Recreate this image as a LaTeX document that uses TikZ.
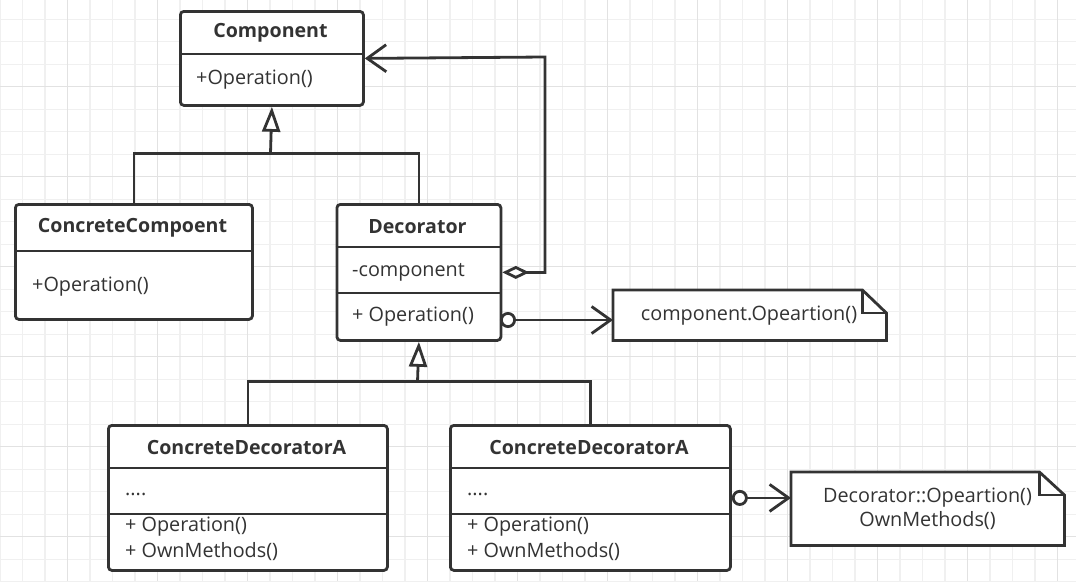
\documentclass[tikz,border=0pt]{standalone}
\usepackage{fontspec}
\setmainfont{Open Sans}
\usetikzlibrary{arrows.meta}
\definecolor{linec}{HTML}{333333}
\definecolor{gridminor}{HTML}{F0F0F0}
\definecolor{gridmajor}{HTML}{E2E2E2}
\tikzset{
  umlbox/.style={draw=linec, line width=2.8pt, rounded corners=3.5pt, fill=white,
    inner sep=0pt, anchor=north west},
  divider/.style={draw=linec, line width=2.4pt},
  conn/.style={draw=linec, line width=2.8pt},
  titletext/.style={font=\fontsize{19.6}{22}\selectfont\bfseries, text=linec, inner sep=0pt},
  membertext/.style={font=\fontsize{19.8}{22}\selectfont, text=linec, inner sep=0pt, anchor=west},
  notebox/.style={inner sep=0pt, anchor=north west},
  notetext/.style={font=\fontsize{19.8}{24}\selectfont, text=linec, inner sep=0pt, align=center},
  notepath/.style={draw=linec, line width=2.8pt, fill=white},
  genarrow/.style={-{Triangle[open, length=25pt, width=18pt, fill=white]}},
  barb/.tip={Straight Barb[length=19pt, width=27pt]},
  ball/.tip={Circle[open, length=16pt, width=16pt, fill=white]},
  rhomb/.tip={Diamond[open, length=27pt, width=13pt, fill=white]},
}
\begin{document}
\begin{tikzpicture}[x=1pt,y=-1pt]
\useasboundingbox (0,0) rectangle (1076,581);
\fill[white] (0,0) rectangle (1076,581);
% grid
\begin{scope}
\clip (0,0) rectangle (1076,581);
\foreach \k in {0,...,48} \draw[gridminor, line width=1.1pt] (22.5*\k,0) -- (22.5*\k,581);
\foreach \k in {0,...,26} \draw[gridminor, line width=1.1pt] (0,-3.2+22.5*\k) -- (1076,-3.2+22.5*\k);
\foreach \k in {0,...,11} \draw[gridmajor, line width=1.2pt] (67.5+90*\k,0) -- (67.5+90*\k,581);
\foreach \k in {1,...,6} \draw[gridmajor, line width=1.2pt] (0,-3.2+90*\k) -- (1076,-3.2+90*\k);
\end{scope}

% Component
\node[umlbox, minimum width=183pt, minimum height=94pt] (comp) at (179,10) {};
\draw[divider] ([yshift=-44pt]comp.north west) -- ([yshift=-44pt]comp.north east);
\node[titletext] (compT) at (270.5,33) {Component};
\node[membertext] (compO) at (196,80) {+Operation()};

% ConcreteCompoent
\node[umlbox, minimum width=237pt, minimum height=115pt] (cc) at (14,203) {};
\draw[divider] ([yshift=-48pt]cc.north west) -- ([yshift=-48pt]cc.north east);
\node[titletext] (ccT) at (132.5,228) {ConcreteCompoent};
\node[membertext] (ccO) at (32,287) {+Operation()};

% Decorator
\node[umlbox, minimum width=164pt, minimum height=136pt] (dec) at (335.5,203) {};
\draw[divider] ([yshift=-44pt]dec.north west) -- ([yshift=-44pt]dec.north east);
\draw[divider] ([yshift=-90pt]dec.north west) -- ([yshift=-90pt]dec.north east);
\node[titletext] (decT) at (417.5,227) {Decorator};
\node[membertext] (decA) at (352,272) {-component};
\node[membertext] (decO) at (352,317) {+ Operation()};

% ConcreteDecoratorA (1)
\node[umlbox, minimum width=279pt, minimum height=145pt] (cda) at (107,424) {};
\draw[divider] ([yshift=-44pt]cda.north west) -- ([yshift=-44pt]cda.north east);
\draw[divider] ([yshift=-90pt]cda.north west) -- ([yshift=-90pt]cda.north east);
\node[titletext] (cdaT) at (246.5,447) {ConcreteDecoratorA};
\node[membertext] (cdaD) at (125,494) {....};
\node[membertext] (cdaO) at (125,527) {+ Operation()};
\node[membertext] (cdaM) at (125,552) {+ OwnMethods()};

% ConcreteDecoratorA (2)
\node[umlbox, minimum width=280pt, minimum height=145pt] (cdb) at (449,424) {};
\draw[divider] ([yshift=-44pt]cdb.north west) -- ([yshift=-44pt]cdb.north east);
\draw[divider] ([yshift=-90pt]cdb.north west) -- ([yshift=-90pt]cdb.north east);
\node[titletext] (cdbT) at (589,447) {ConcreteDecoratorA};
\node[membertext] (cdbD) at (467,494) {....};
\node[membertext] (cdbO) at (467,527) {+ Operation()};
\node[membertext] (cdbM) at (467,552) {+ OwnMethods()};

% Note 1
\node[notebox, minimum width=273pt, minimum height=50pt] (noteA) at (613,290) {};
\draw[notepath] (noteA.north west) -- ([xshift=-24pt]noteA.north east) -- ([yshift=-23pt]noteA.north east)
  -- (noteA.south east) -- (noteA.south west) -- cycle;
\draw[conn] ([xshift=-24pt]noteA.north east) |- ([yshift=-23pt]noteA.north east);
\node[notetext] (noteAT) at (749,316) {component.Opeartion()};

% Note 2
\node[notebox, minimum width=273pt, minimum height=73pt] (noteB) at (791,472) {};
\draw[notepath] (noteB.north west) -- ([xshift=-25pt]noteB.north east) -- ([yshift=-23pt]noteB.north east)
  -- (noteB.south east) -- (noteB.south west) -- cycle;
\draw[conn] ([xshift=-25pt]noteB.north east) |- ([yshift=-23pt]noteB.north east);
\node[notetext] (noteBT) at (927.5,509) {Decorator::Opeartion()\\OwnMethods()};

% generalization 1
\coordinate (g1) at (270.5,153.3);
\draw[conn] (cc.north) |- (g1) -| (dec.north);
\draw[conn, genarrow] (g1) -- (comp.south);

% generalization 2
\coordinate (g2) at (417.5,381.7);
\draw[conn] (cda.north) |- (g2) -| (cdb.north);
\draw[conn, genarrow] (g2) -- (dec.south);

% aggregation
\coordinate (aggc) at (545,57);
\draw[conn, {rhomb}-{barb}] (dec.east) -| (aggc) -- (comp.east);

% dependency to notes
\coordinate (d1) at (500,320);
\draw[conn, {ball}-{barb}] (d1) -- (d1 -| noteA.west);
\draw[conn, {ball}-{barb}] (cdb.east) -- (cdb.east -| noteB.west);
\end{tikzpicture}
\end{document}
